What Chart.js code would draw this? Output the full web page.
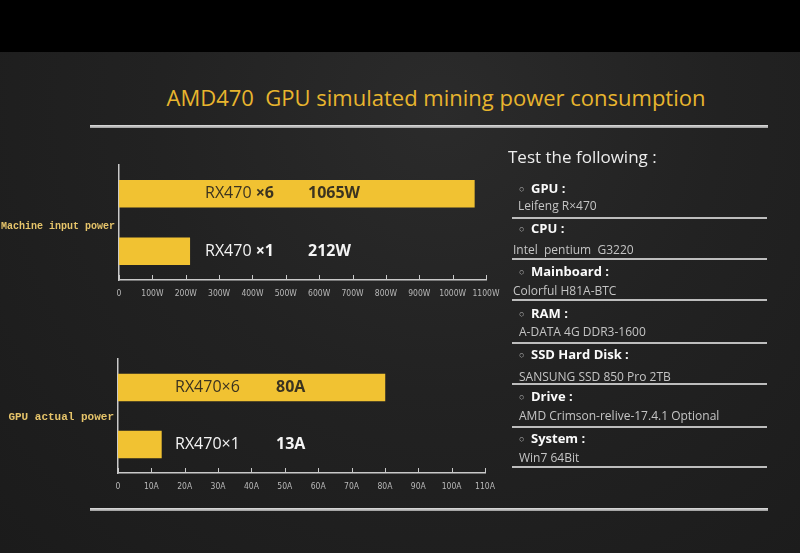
<!DOCTYPE html>
<html>
<head>
<meta charset="utf-8">
<script src="https://cdn.jsdelivr.net/npm/chart.js@4"></script>
<style>
  html, body { margin: 0; padding: 0; }
  body {
    width: 800px; height: 553px; position: relative; overflow: hidden;
    background: radial-gradient(ellipse at 55% 20%, #2b2b2b 0%, #222 45%, #1b1b1b 100%);
    font-family: "Open Sans", "Noto Sans", sans-serif;
  }
  .topband { position: absolute; left: 0; top: 0; width: 800px; height: 52px; background: #000; }
  .title {
    position: absolute; left: 0; width: 872px; top: 82px; text-align: center;
    color: #e8b52e; font-size: 22px; line-height: 30px; white-space: pre;
  }
  .rule { position: absolute; left: 90px; width: 678px; height: 3px; background: linear-gradient(#e0e0e0, #9a9a9a); }
  canvas { position: absolute; left: 0; }
  .panel div { position: absolute; white-space: pre; line-height: 16px; }
  .head { color: #fafafa; font-size: 13px; font-weight: bold; left: 531px; }
  .bullet { color: #bbb; font-size: 9px; }
  .sub { color: #c4c4c4; font-size: 12px; }
  .sep { height: 2px; background: #bdbdbd; left: 512px; width: 255px; }
</style>
</head>
<body>
<div class="topband"></div>
<div class="title">AMD470  GPU simulated mining power consumption</div>
<div class="rule" style="top:125px"></div>
<div class="rule" style="top:508px"></div>

<canvas id="powerChart" width="510" height="150" style="top:160px"></canvas>
<canvas id="currentChart" width="510" height="150" style="top:350px"></canvas>

<div class="panel" id="panel">
  <div style="left:508px; top:146px; color:#ececec; font-size:17px; line-height:22px;">Test the following :</div>
</div>

<script>
// chart data
const powerNames = ["RX470 ×6", "RX470 ×1"];
const powerValues = [1065, 212];
const powerUnit = "W";
const powerTitle = "Machine input power";

const currentNames = ["RX470×6", "RX470×1"];
const currentValues = [80, 13];
const currentUnit = "A";
const currentTitle = "GPU actual power";

// right side list
const specHeads = ["GPU :", "CPU :", "Mainboard :", "RAM :", "SSD Hard Disk :", "Drive :", "System :"];
const specValues = ["Leifeng R×470", "Intel  pentium  G3220", "Colorful H81A-BTC", "A-DATA 4G DDR3-1600",
    "SANSUNG SSD 850 Pro 2TB", "AMD Crimson-relive-17.4.1 Optional", "Win7 64Bit"];

const barColor = "#f1c232";
const axisColor = "#c9c9c9";

// build the spec list
const panel = document.getElementById("panel");
const headY = [180, 220, 263, 305, 346, 388, 430];
const subY = [198, 242, 283, 324, 369, 408, 450];
const subX = [518, 513, 513, 519, 519, 519, 519];
const sepY = [217, 258, 299, 342, 383, 426, 466];
specHeads.forEach((h, i) => {
    panel.insertAdjacentHTML("beforeend",
        `<div class="bullet" style="left:519px; top:${headY[i] + 1}px">○</div>` +
        `<div class="head" style="top:${headY[i]}px">${h}</div>` +
        `<div class="sub" style="left:${subX[i]}px; top:${subY[i]}px">${specValues[i]}</div>` +
        `<div class="sep" style="top:${sepY[i]}px"></div>`);
});

// draws the names / values inside the bars, the small up ticks and the side title
const barTextPlugin = {
    id: "barText",
    afterDraw(chart, args, opts) {
        const ctx = chart.ctx;
        const area = chart.chartArea;
        const meta = chart.getDatasetMeta(0);
        const xScale = chart.scales.x;

        ctx.save();
        // ticks pointing up from the axis
        ctx.strokeStyle = axisColor;
        ctx.lineWidth = 1;
        xScale.ticks.forEach((t) => {
            const x = Math.round(xScale.getPixelForValue(t.value)) + 0.5;
            ctx.beginPath();
            ctx.moveTo(x, area.bottom - 5);
            ctx.lineTo(x, area.bottom);
            ctx.stroke();
        });

        // side title
        ctx.fillStyle = "#e6c46a";
        ctx.font = "bold " + opts.titleSize + "px 'Liberation Mono', 'DejaVu Sans Mono', monospace";
        ctx.textAlign = "right";
        ctx.textBaseline = "middle";
        ctx.fillText(opts.title, area.left - 4, (area.top + area.bottom) / 2 + opts.titleShift);

        // labels on the bars
        ctx.textAlign = "left";
        meta.data.forEach((bar, i) => {
            ctx.fillStyle = i === 0 ? "#3b3320" : "#f4f4f4";
            const name = opts.names[i];
            let x = area.left + opts.nameX;
            if (opts.boldSuffix) {
                const parts = name.split(" ");
                ctx.font = "16px 'Open Sans', sans-serif";
                ctx.fillText(parts[0] + " ", x, bar.y);
                x += ctx.measureText(parts[0] + " ").width;
                ctx.font = "bold 16px 'Open Sans', sans-serif";
                ctx.fillText(parts[1], x, bar.y);
            } else {
                ctx.font = "16px 'Open Sans', sans-serif";
                ctx.fillText(name, x, bar.y);
            }
            ctx.font = "bold 16px 'Open Sans', sans-serif";
            const v = chart.data.datasets[0].data[i];
            ctx.fillText(v + opts.unit, area.left + opts.valueX, bar.y);
        });
        ctx.restore();
    },
};

function makeChart(id, names, values, unit, title, cfg) {
    const ctx = document.getElementById(id).getContext("2d");
    return new Chart(ctx, {
        type: "bar",
        data: {
            labels: names,
            datasets: [
                {
                    data: values,
                    backgroundColor: barColor,
                    borderWidth: 0,
                    barThickness: 27,
                },
            ],
        },
        options: {
            indexAxis: "y",
            responsive: false,
            animation: false,
            devicePixelRatio: 1,
            layout: {
                padding: { left: cfg.left, top: cfg.top, right: cfg.right, bottom: cfg.bottom },
            },
            plugins: {
                legend: { display: false },
                tooltip: { enabled: false },
                barText: {
                    names: names,
                    unit: unit,
                    title: title,
                    titleSize: cfg.titleSize,
                    titleShift: cfg.titleShift,
                    nameX: cfg.nameX,
                    valueX: cfg.valueX,
                    boldSuffix: cfg.boldSuffix,
                },
            },
            scales: {
                x: {
                    min: 0,
                    max: cfg.max,
                    grid: { display: false, drawTicks: false },
                    border: { display: true, color: axisColor, width: 1.5 },
                    ticks: {
                        stepSize: cfg.step,
                        color: "#b8b8b8",
                        padding: 9,
                        maxRotation: 0,
                        autoSkip: false,
                        font: { family: "'DejaVu Sans Condensed', 'Liberation Sans Narrow', sans-serif", size: 8.5 },
                        callback: (v) => (v === 0 ? "0" : v + unit),
                    },
                    afterFit: (scale) => { scale.height = 20; },
                },
                y: {
                    grid: { display: false, drawTicks: false },
                    border: { display: true, color: axisColor, width: 1.5 },
                    ticks: { display: false },
                    afterFit: (scale) => { scale.width = 0; },
                },
            },
        },
        plugins: [barTextPlugin],
    });
}

makeChart("powerChart", powerNames, powerValues, powerUnit, powerTitle, {
    left: 119, top: 5, right: 24, bottom: 10, max: 1100, step: 100,
    titleSize: 10, titleShift: 4, nameX: 86, valueX: 189, boldSuffix: true,
});
makeChart("currentChart", currentNames, currentValues, currentUnit, currentTitle, {
    left: 118, top: 9, right: 25, bottom: 7, max: 110, step: 10,
    titleSize: 11, titleShift: 1, nameX: 57, valueX: 158, boldSuffix: false,
});
</script>
</body>
</html>
